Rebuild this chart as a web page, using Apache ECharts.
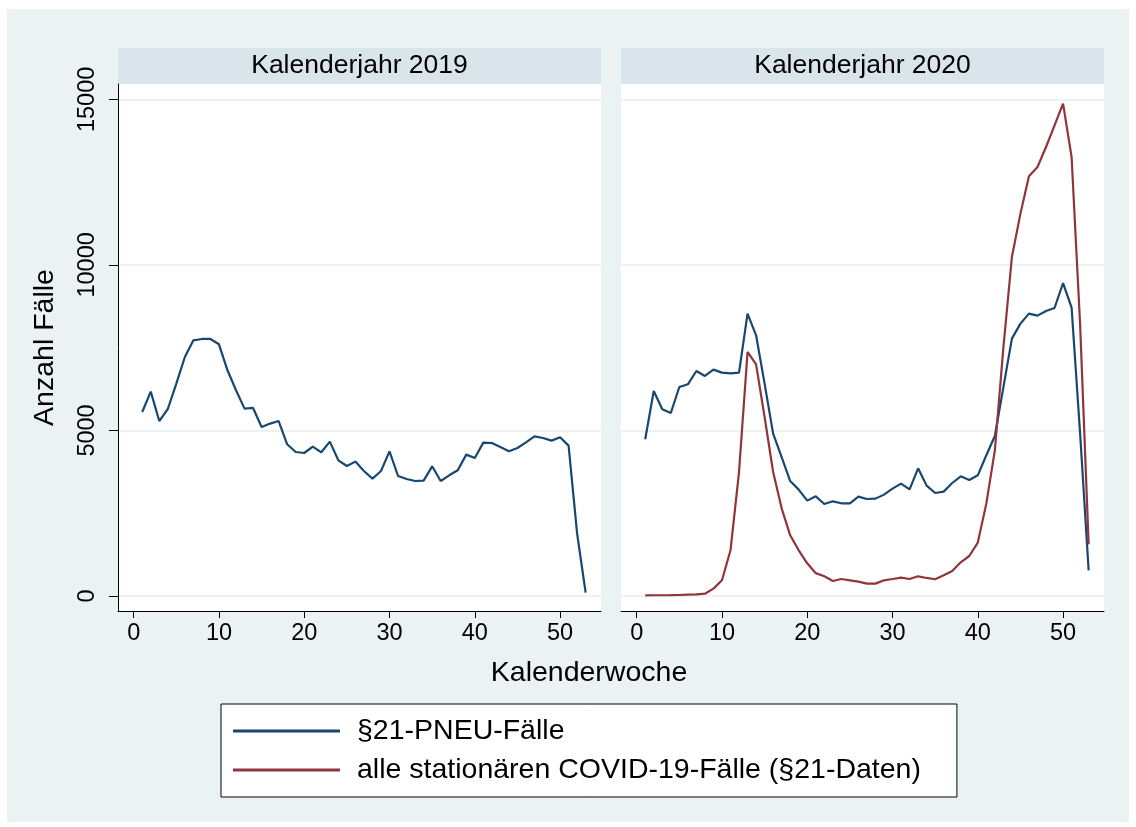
<!DOCTYPE html>
<html>
<head>
<meta charset="utf-8">
<script src="https://cdn.jsdelivr.net/npm/echarts@6/dist/echarts.min.js"></script>
<style>
  html, body { margin: 0; padding: 0; background: #fff; }
  #chart { width: 1136px; height: 827px; }
</style>
</head>
<body>
<div id="chart"></div>
<script>
// Kalenderwochen
const weeks = [1, 2, 3, 4, 5, 6, 7, 8, 9, 10, 11, 12, 13, 14, 15, 16, 17, 18, 19, 20,
  21, 22, 23, 24, 25, 26, 27, 28, 29, 30, 31, 32, 33, 34, 35, 36, 37, 38, 39, 40,
  41, 42, 43, 44, 45, 46, 47, 48, 49, 50, 51, 52, 53]

// §21-PNEU-Fälle 2019
const pneu2019 = [5557, 6173, 5285, 5648, 6415, 7218, 7723, 7763, 7763, 7602,
  6817, 6213, 5660, 5680, 5104, 5207, 5285, 4582, 4349, 4319,
  4512, 4340, 4663, 4098, 3926, 4059, 3775, 3545, 3775, 4370,
  3624, 3534, 3473, 3485, 3917, 3473, 3645, 3796, 4270, 4168,
  4633, 4621, 4500, 4370, 4470, 4642, 4823, 4772, 4693, 4793,
  4542, 1885, 103]

// §21-PNEU-Fälle 2020
const pneu2020 = [4733, 6192, 5639, 5527, 6312, 6394, 6796, 6645, 6838, 6747,
  6726, 6747, 8529, 7874, 6415, 4905, 4198, 3473, 3213, 2881,
  3011, 2779, 2860, 2800, 2800, 3002, 2930, 2941, 3062, 3244,
  3395, 3223, 3857, 3334, 3111, 3153, 3413, 3615, 3503, 3645,
  4250, 4832, 6300, 7774, 8227, 8529, 8469, 8608, 8698, 9453,
  8710, 4900, 776]

// alle stationären COVID-19-Fälle 2020
const covid2020 = [21, 22, 22, 25, 30, 40, 50, 70, 222, 474,
  1380, 3745, 7370, 6998, 5406, 3745, 2649, 1833, 1380, 988,
  690, 595, 453, 513, 474, 434, 374, 374, 474, 513,
  555, 513, 595, 545, 505, 625, 755, 1018, 1208, 1613,
  2790, 4400, 7500, 10239, 11549, 12676, 12957, 13561, 14216, 14871,
  13259, 8200, 1561]

const xTicks = [0, 10, 20, 30, 40, 50]
const yTicks = [0, 5000, 10000, 15000]

const nameA = '§21-PNEU-Fälle'
const nameB = 'alle stationären COVID-19-Fälle (§21-Daten)'
const blue = '#1a476f'
const red = '#90353b'
const font = 'Liberation Sans, Arial, sans-serif'

const pairs = vals => weeks.map((w, i) => [w, vals[i]])

const xAxisFor = idx => ({
  type: 'value',
  gridIndex: idx,
  min: -1.84,
  max: 54.8,
  axisLine: { onZero: false, lineStyle: { color: '#000', width: 1 } },
  axisTick: { customValues: xTicks, length: 7, lineStyle: { color: '#000' } },
  axisLabel: { customValues: xTicks, color: '#000', fontSize: 23.5, fontFamily: font, margin: 11, formatter: v => String(v) },
  splitLine: { show: false }
})

const yAxisFor = idx => ({
  type: 'value',
  gridIndex: idx,
  min: -453,
  max: 15464,
  axisLine: { show: idx === 0, onZero: false, lineStyle: { color: '#000', width: 1 } },
  axisTick: { show: idx === 0, customValues: yTicks, length: 9, lineStyle: { color: '#000' } },
  axisLabel: { show: idx === 0, customValues: yTicks, rotate: 90, color: '#000', fontSize: 23.5, fontFamily: font, margin: 18, formatter: v => String(v) },
  splitLine: { show: true, lineStyle: { color: '#eaf2f3', width: 2 } },
  name: idx === 0 ? 'Anzahl Fälle' : '',
  nameLocation: 'middle',
  nameGap: 58,
  nameTextStyle: { color: '#000', fontSize: 28.5, fontFamily: font }
})

const lineSeries = (name, vals, color, idx) => ({
  name,
  type: 'line',
  xAxisIndex: idx,
  yAxisIndex: idx,
  data: pairs(vals),
  symbol: 'none',
  lineStyle: { color, width: 2.2 },
  itemStyle: { color },
  animation: false
})

const myChart = echarts.init(document.querySelector('#chart'))
const option = {
  backgroundColor: '#fff',
  animation: false,
  grid: [
    { left: 118, top: 84, width: 483, height: 527, show: true, backgroundColor: '#fff', borderWidth: 0 },
    { left: 621, top: 84, width: 483, height: 527, show: true, backgroundColor: '#fff', borderWidth: 0 }
  ],
  xAxis: [xAxisFor(0), xAxisFor(1)],
  yAxis: [yAxisFor(0), yAxisFor(1)],
  legend: {
    orient: 'vertical',
    left: 221,
    top: 704,
    padding: [12, 36, 12, 12],
    itemGap: 9,
    itemWidth: 107,
    itemHeight: 3,
    icon: 'rect',
    backgroundColor: '#fff',
    borderColor: '#000',
    borderWidth: 1,
    borderRadius: 0,
    textStyle: { color: '#000', fontSize: 28.5, fontFamily: font, lineHeight: 30, padding: [0, 0, 0, 12] },
    data: [nameA, nameB]
  },
  graphic: [
    { type: 'rect', z: -10, shape: { x: 7, y: 9, width: 1122, height: 813 }, style: { fill: '#eaf2f3' }, silent: true },
    { type: 'rect', shape: { x: 118, y: 48, width: 483, height: 36 }, style: { fill: '#d9e5eb' }, silent: true },
    { type: 'rect', shape: { x: 621, y: 48, width: 483, height: 36 }, style: { fill: '#d9e5eb' }, silent: true },
    { type: 'text', x: 359.5, y: 66, style: { text: 'Kalenderjahr 2019', fill: '#000', font: '26.5px ' + font, textAlign: 'center', textVerticalAlign: 'middle' } },
    { type: 'text', x: 862.5, y: 66, style: { text: 'Kalenderjahr 2020', fill: '#000', font: '26.5px ' + font, textAlign: 'center', textVerticalAlign: 'middle' } },
    { type: 'text', x: 589, y: 673, style: { text: 'Kalenderwoche', fill: '#000', font: '28.5px ' + font, textAlign: 'center', textVerticalAlign: 'middle' } }
  ],
  series: [
    lineSeries(nameA, pneu2019, blue, 0),
    lineSeries(nameA, pneu2020, blue, 1),
    lineSeries(nameB, covid2020, red, 1)
  ]
}
myChart.setOption(option)
</script>
</body>
</html>
